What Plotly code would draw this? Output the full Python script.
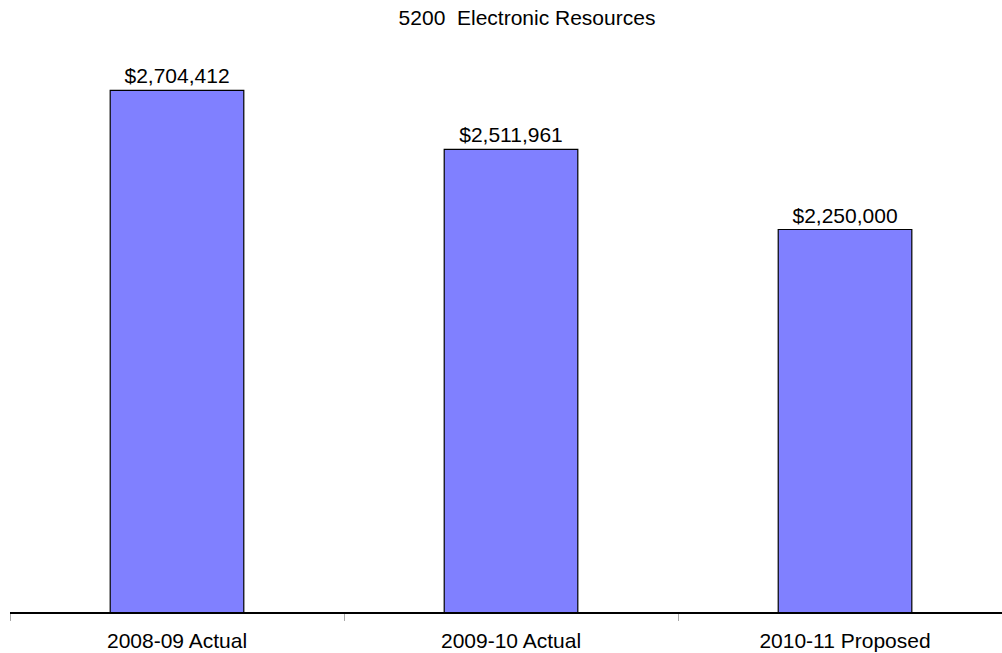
import plotly.graph_objects as go

# Budget line 5200: electronic resources spending by fiscal year
categories = ["2008-09 Actual", "2009-10 Actual", "2010-11 Proposed"]
amounts = [2704412, 2511961, 2250000]
amount_labels = ["$2,704,412", "$2,511,961", "$2,250,000"]

FONT = "Liberation Sans, Arial, sans-serif"

fig = go.Figure(
    go.Bar(
        x=categories,
        y=amounts,
        width=0.4,
        marker=dict(color="#8080FF", line=dict(color="#000000", width=1.2)),
        text=amount_labels,
        textposition="outside",
        textfont=dict(family=FONT, size=21, color="#000000"),
        cliponaxis=False,
    )
)

fig.update_layout(
    width=1002,
    height=653,
    margin=dict(l=10, r=0, t=0, b=41),
    plot_bgcolor="white",
    paper_bgcolor="white",
    showlegend=False,
    title=dict(
        text="5200&nbsp;&nbsp;Electronic Resources",
        x=527 / 1002,
        xanchor="center",
        xref="container",
        y=1 - 18 / 653,
        yanchor="middle",
        yref="container",
        font=dict(family=FONT, size=21, color="#000000"),
    ),
    font=dict(family=FONT, color="#000000"),
)

fig.update_xaxes(
    range=[-0.5, 2.47],
    showline=True,
    linecolor="#000000",
    linewidth=1.5,
    tickson="boundaries",
    ticks="outside",
    ticklen=7,
    tickcolor="#AAAAAA",
    tickwidth=1,
    ticklabelstandoff=9,
    tickfont=dict(family=FONT, size=21, color="#000000"),
    showgrid=False,
)

fig.update_yaxes(
    range=[1000000, 3000000],
    visible=False,
    showgrid=False,
)

fig.write_html("out.html")
